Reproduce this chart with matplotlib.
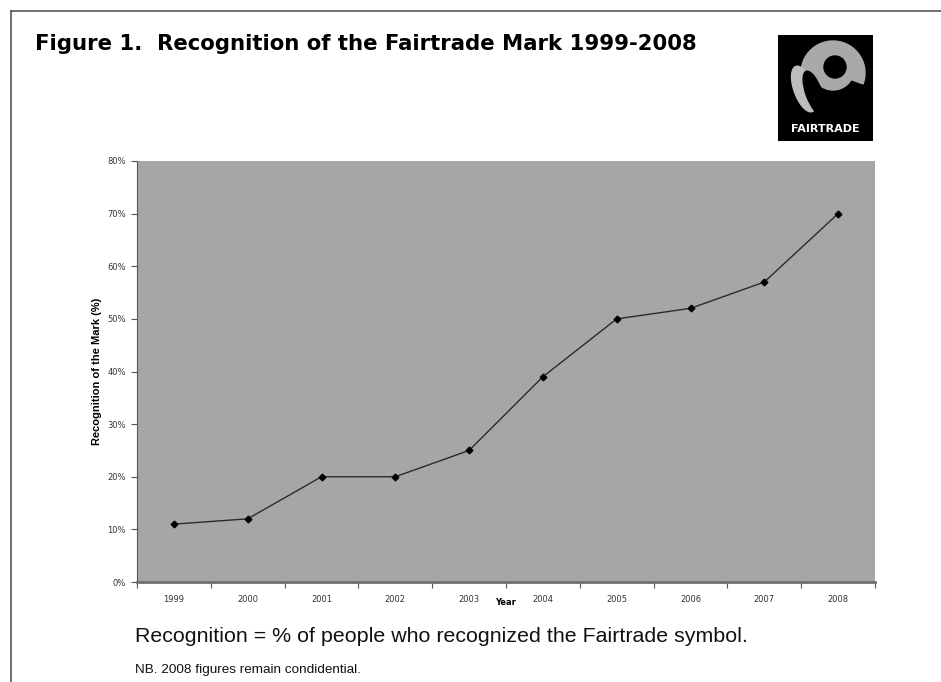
import matplotlib
matplotlib.use("Agg")
import matplotlib.pyplot as plt
from matplotlib.patches import Rectangle, Circle, Wedge, Ellipse
from matplotlib.lines import Line2D

# data
years = ["1999", "2000", "2001", "2002", "2003", "2004", "2005", "2006", "2007", "2008"]
recognition = [0.11, 0.12, 0.20, 0.20, 0.25, 0.39, 0.50, 0.52, 0.57, 0.70]
y_ticks = [0.0, 0.1, 0.2, 0.3, 0.4, 0.5, 0.6, 0.7, 0.8]
y_tick_labels = ["0%", "10%", "20%", "30%", "40%", "50%", "60%", "70%", "80%"]

W, H = 941, 682
fig = plt.figure(figsize=(W / 100, H / 100), dpi=100)
fig.patch.set_facecolor("white")

def fx(px):
    return px / W

def fy(py):
    return 1 - py / H

# frame lines (top and left)
fig.add_artist(Line2D([fx(11), 1.0], [fy(11), fy(11)], color="#555555", lw=1.2))
fig.add_artist(Line2D([fx(11), fx(11)], [fy(11), 0.0], color="#555555", lw=1.2))

# title
fig.text(fx(35), fy(44), "Figure 1.  Recognition of the Fairtrade Mark 1999-2008",
         fontsize=15.3, fontweight="bold", family="DejaVu Sans", va="center", ha="left")

# main plot
ax = fig.add_axes([fx(137), fy(582), fx(875) - fx(137), (582 - 161) / H])
ax.set_facecolor("#a6a6a6")
x = list(range(len(years)))
ax.plot(x, recognition, color="#2b2b2b", lw=1.0, marker="D", markersize=3.4,
        markerfacecolor="black", markeredgecolor="black")

ax.set_xlim(-0.5, len(years) - 0.5)
ax.set_ylim(0, 0.8)
ax.set_yticks(y_ticks)
ax.set_yticklabels(y_tick_labels)
ax.set_xticks(x)
ax.set_xticklabels(years)
ax.set_xticks([i - 0.5 for i in range(len(years) + 1)], minor=True)
ax.tick_params(axis="x", which="major", length=0, pad=9, labelsize=6, labelcolor="#333333")
ax.tick_params(axis="x", which="minor", length=4, direction="out", color="#555555", width=0.8)
ax.tick_params(axis="y", length=4, direction="out", color="#555555", width=0.8,
               labelsize=6, labelcolor="#333333", pad=4)
for s in ["top", "right"]:
    ax.spines[s].set_visible(False)
ax.spines["left"].set_color("#555555")
ax.spines["bottom"].set_color("#707070")
ax.spines["bottom"].set_linewidth(2.0)

ax.set_xlabel("Year", fontsize=6, fontweight="bold", labelpad=-4)
ax.set_ylabel("Recognition of the Mark (%)", fontsize=8, fontweight="bold",
              family="Liberation Sans", labelpad=4)

# captions
fig.text(fx(135), fy(637), "Recognition = % of people who recognized the Fairtrade symbol.",
         fontsize=15.4, family="Liberation Sans", va="center", ha="left", color="#111111")
fig.text(fx(135), fy(670), "NB. 2008 figures remain condidential.",
         fontsize=9.7, family="Liberation Sans", va="center", ha="left", color="#111111")

# Fairtrade logo
lax = fig.add_axes([fx(778), fy(141), fx(873) - fx(778), (141 - 35) / H])
lax.set_xlim(0, 95)
lax.set_ylim(106, 0)
lax.axis("off")
lax.add_patch(Rectangle((0, 0), 95, 106, color="black"))
lax.add_patch(Wedge((55, 38), 32, 150, 20, width=17, color="#a9a9a9"))
lax.add_patch(Circle((55, 34), 21, color="#a9a9a9"))
lax.add_patch(Circle((57, 32), 11, color="black"))
lax.add_patch(Ellipse((26, 54), 20, 48, angle=-20, color="#bdbdbd"))
lax.add_patch(Ellipse((36, 58), 16, 46, angle=-20, color="black"))
lax.text(47.5, 94, "FAIRTRADE", color="white", fontsize=8, fontweight="bold",
         ha="center", va="center", family="DejaVu Sans")

fig.savefig("out.png", dpi=100)
